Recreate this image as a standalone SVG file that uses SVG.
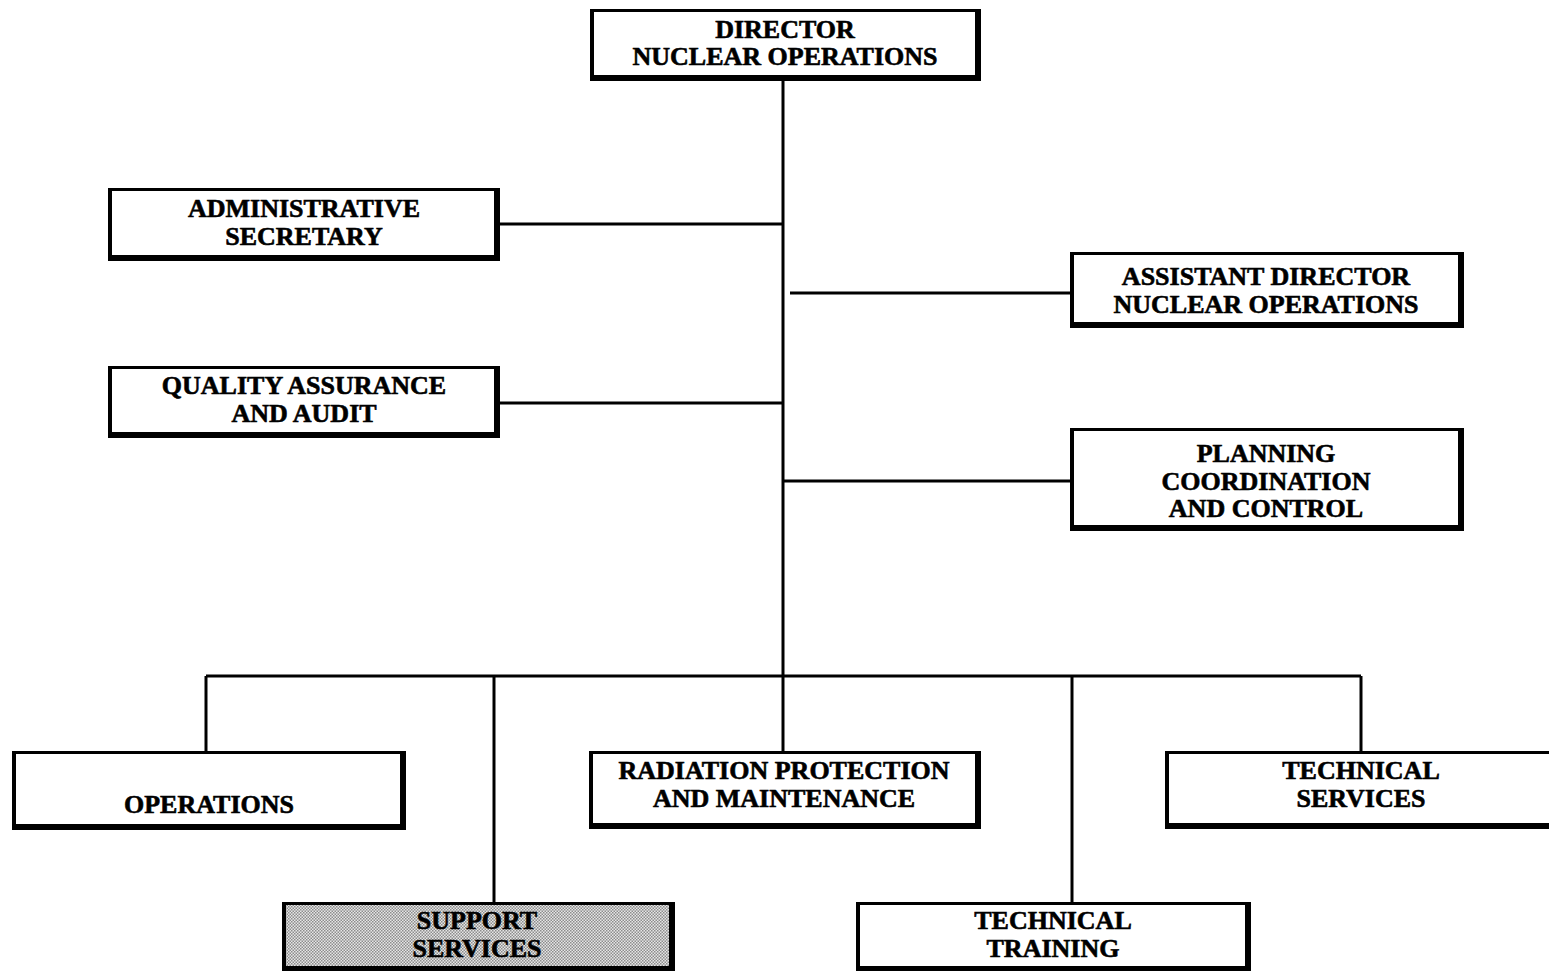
<svg xmlns="http://www.w3.org/2000/svg" width="1549" height="971" viewBox="0 0 1549 971">
<style>
.o{fill:#000}
.i{fill:#fff}
.s{fill:url(#dots)}
.t{font-family:"Liberation Serif","Times New Roman",serif;font-weight:bold;font-size:26px;fill:#000;stroke:#000;stroke-width:0.6;text-anchor:middle}
.c{stroke:#000;stroke-width:3;fill:none}
</style>
<defs>
<pattern id="dots" width="3" height="3" patternUnits="userSpaceOnUse">
<rect width="3" height="3" fill="#e6e6e6"/>
<rect width="1.5" height="1.5" fill="#8c8c8c"/>
<rect x="1.5" y="1.5" width="1.5" height="1.5" fill="#8c8c8c"/>
</pattern>
</defs>
<rect width="1549" height="971" fill="#fff"/>
<g id="connectors">
<path class="c" d="M783 81V676"/>
<path class="c" d="M500 224H783"/>
<path class="c" d="M790 293H1070"/>
<path class="c" d="M500 403H783"/>
<path class="c" d="M783 481H1070"/>
<path class="c" d="M206 676H1361"/>
<path class="c" d="M206 676V751"/>
<path class="c" d="M494 676V902"/>
<path class="c" d="M783 676V751"/>
<path class="c" d="M1072 676V902"/>
<path class="c" d="M1361 676V751"/>
</g>
<g id="director">
<rect class="o" x="590" y="9" width="391" height="72"/>
<rect class="i" x="594" y="12" width="381" height="63"/>
<text class="t" x="785" y="38">DIRECTOR</text>
<text class="t" x="785" y="65">NUCLEAR OPERATIONS</text>
</g>
<g id="admin">
<rect class="o" x="108" y="188" width="392" height="73"/>
<rect class="i" x="112" y="191" width="382" height="64"/>
<text class="t" x="304" y="217">ADMINISTRATIVE</text>
<text class="t" x="304" y="245">SECRETARY</text>
</g>
<g id="qa">
<rect class="o" x="108" y="366" width="392" height="72"/>
<rect class="i" x="112" y="369" width="382" height="63"/>
<text class="t" x="304" y="394">QUALITY ASSURANCE</text>
<text class="t" x="304" y="422">AND AUDIT</text>
</g>
<g id="assistant">
<rect class="o" x="1070" y="252" width="394" height="76"/>
<rect class="i" x="1074" y="255" width="384" height="67"/>
<text class="t" x="1266" y="285">ASSISTANT DIRECTOR</text>
<text class="t" x="1266" y="313">NUCLEAR OPERATIONS</text>
</g>
<g id="planning">
<rect class="o" x="1070" y="428" width="394" height="103"/>
<rect class="i" x="1074" y="431" width="384" height="94"/>
<text class="t" x="1266" y="462">PLANNING</text>
<text class="t" x="1266" y="490">COORDINATION</text>
<text class="t" x="1266" y="517">AND CONTROL</text>
</g>
<g id="operations">
<rect class="o" x="12" y="751" width="394" height="79"/>
<rect class="i" x="16" y="754" width="384" height="70"/>
<text class="t" x="209" y="813">OPERATIONS</text>
</g>
<g id="radiation">
<rect class="o" x="589" y="751" width="392" height="78"/>
<rect class="i" x="593" y="754" width="382" height="69"/>
<text class="t" x="784" y="779">RADIATION PROTECTION</text>
<text class="t" x="784" y="807">AND MAINTENANCE</text>
</g>
<g id="techservices">
<rect class="o" x="1165" y="751" width="390" height="78"/>
<rect class="i" x="1169" y="754" width="390" height="69"/>
<text class="t" x="1361" y="779">TECHNICAL</text>
<text class="t" x="1361" y="807">SERVICES</text>
</g>
<g id="support">
<rect class="o" x="282" y="902" width="393" height="69"/>
<rect class="s" x="286" y="905" width="383" height="61"/>
<text class="t" x="477" y="929">SUPPORT</text>
<text class="t" x="477" y="957">SERVICES</text>
</g>
<g id="training">
<rect class="o" x="856" y="902" width="395" height="69"/>
<rect class="i" x="860" y="905" width="385" height="61"/>
<text class="t" x="1053" y="929">TECHNICAL</text>
<text class="t" x="1053" y="957">TRAINING</text>
</g>
</svg>
